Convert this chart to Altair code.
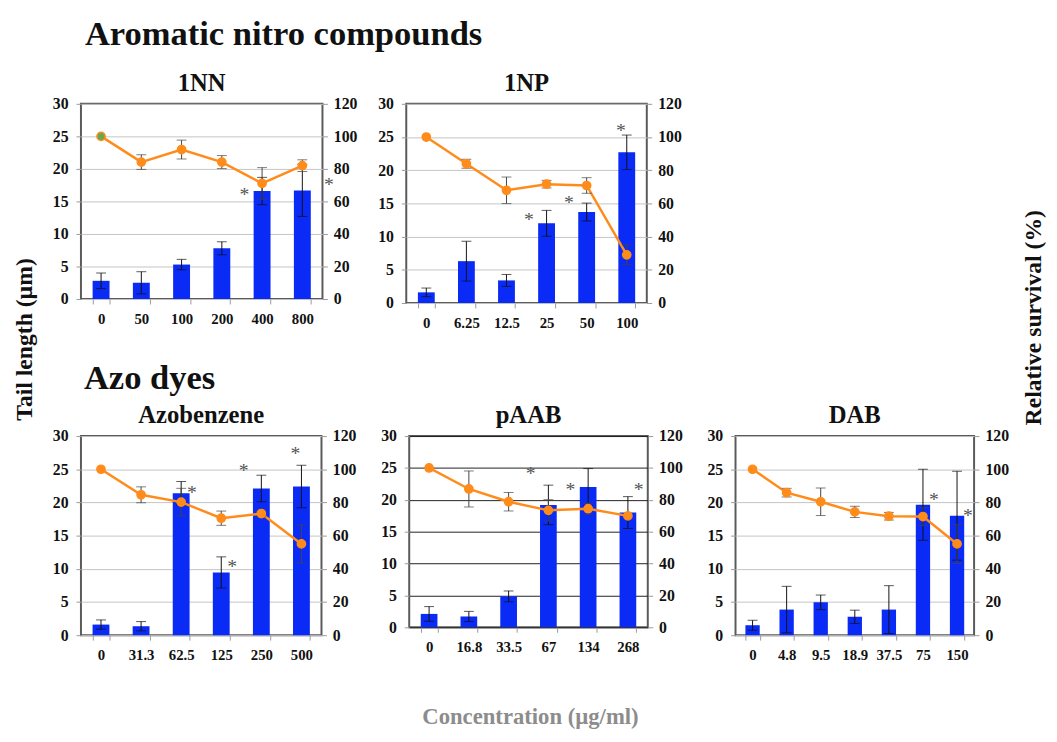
import altair as alt
import pandas as pd

FONT = "Liberation Serif"
BLUE = "#0a2af5"
ORANGE = "#ff8c1a"

# ---------------- data ----------------
cats_1nn = ["0", "50", "100", "200", "400", "800"]
tail_1nn = [2.8, 2.5, 5.3, 7.8, 16.6, 16.7]
tail_err_1nn = [1.2, 1.7, 0.8, 1.0, 2.1, 4.0]
surv_1nn = [100, 84.2, 91.9, 84.2, 71.1, 82.0]
surv_err_1nn = [0, 4.5, 5.8, 4.0, 9.7, 3.6]
star_cat_1nn = ["400", "800"]
star_y_1nn = [16.6, 18.1]
star_side_1nn = ["left", "far"]

cats_1np = ["0", "6.25", "12.5", "25", "50", "100"]
tail_1np = [1.6, 6.3, 3.4, 12.0, 13.7, 22.7]
tail_err_1np = [0.65, 3.0, 0.9, 1.95, 1.35, 2.6]
surv_1np = [100, 83.9, 67.9, 71.6, 70.8, 29.0]
surv_err_1np = [0, 2.7, 8.0, 2.3, 4.7, 6.0]
star_cat_1np = ["25", "50", "100"]
star_y_1np = [13.1, 15.6, 26.5]
star_side_1np = ["left", "left", "top"]

cats_azo = ["0", "31.3", "62.5", "125", "250", "500"]
tail_azo = [1.6, 1.35, 21.4, 9.45, 22.1, 22.4]
tail_err_azo = [0.7, 0.7, 1.75, 2.35, 2.0, 3.2]
surv_azo = [100, 84.6, 80.2, 70.5, 73.3, 55.0]
surv_err_azo = [0, 4.8, 8.3, 4.3, 2.0, 11.5]
star_cat_azo = ["62.5", "125", "250", "500"]
star_y_azo = [22.0, 10.8, 25.3, 27.9]
star_side_azo = ["right", "right", "left", "top"]

cats_paab = ["0", "16.8", "33.5", "67", "134", "268"]
tail_paab = [2.1, 1.7, 4.85, 19.2, 22.0, 18.0]
tail_err_paab = [1.15, 0.8, 0.85, 3.1, 2.9, 2.5]
surv_paab = [100, 86.8, 78.8, 73.4, 74.4, 69.9]
surv_err_paab = [0, 11.3, 5.8, 6.7, 3.5, 0]
star_cat_paab = ["67", "134", "268"]
star_y_paab = [24.7, 22.2, 22.2]
star_side_paab = ["left", "left", "right"]

cats_dab = ["0", "4.8", "9.5", "18.9", "37.5", "75", "150"]
tail_dab = [1.5, 3.86, 4.95, 2.77, 3.86, 19.65, 18.0]
tail_err_dab = [0.75, 3.5, 1.1, 1.0, 3.6, 5.35, 6.7]
surv_dab = [100, 85.9, 80.4, 74.3, 71.7, 71.5, 55.0]
surv_err_dab = [0, 2.6, 8.3, 3.4, 2.3, 5.5, 11.8]
star_cat_dab = ["75", "150"]
star_y_dab = [20.9, 18.6]
star_side_dab = ["right", "right"]

left_label = ["Tail length (µm)"]
right_label = ["Relative survival (%)"]
bottom_label = "Concentration (µg/ml)"

STAR_DX = {"left": -18, "top": -6, "right": 11, "far": 27}


def panel(name, cats, tail, tail_err, surv, surv_err, star_cat, star_y, star_side,
          w, h, grid_color, highlight=()):
    df = pd.DataFrame({
        "idx": list(range(len(cats))),
        "cat": cats,
        "tail": tail,
        "tlo": [t - e for t, e in zip(tail, tail_err)],
        "thi": [t + e for t, e in zip(tail, tail_err)],
        "surv": surv,
        "slo": [s - e for s, e in zip(surv, surv_err)],
        "shi": [s + e for s, e in zip(surv, surv_err)],
        "hl": [c in highlight for c in cats],
    })
    xenc = alt.X("cat:N", sort=cats,
                 scale=alt.Scale(paddingInner=0.58, paddingOuter=0.29),
                 axis=alt.Axis(title=None, labelAngle=0, tickBand="extent", tickSize=5,
                               labelPadding=8, labelFontSize=15))
    lscale = alt.Scale(domain=[0, 30])
    laxis = alt.Axis(title=None, values=list(range(0, 31, 5)), grid=True, gridColor=grid_color,
                     tickSize=5, labelPadding=8, labelFontSize=16, orient="left")
    rscale = alt.Scale(domain=[0, 120])
    raxis = alt.Axis(title=None, values=list(range(0, 121, 20)), grid=False,
                     tickSize=5, labelPadding=6, labelFontSize=16, orient="right")

    def ly(f):
        return alt.Y(f, scale=lscale, axis=laxis)

    def ry(f):
        return alt.Y(f, scale=rscale, axis=raxis)

    base = alt.Chart(df).encode(x=xenc)
    bars = base.mark_bar(color=BLUE).encode(y=ly("tail:Q"))
    berr = base.mark_rule(color="#111", strokeWidth=1).encode(y=ly("tlo:Q"), y2="thi:Q")
    bcap1 = base.mark_tick(color="#111", size=10, thickness=1).encode(y=ly("tlo:Q"))
    bcap2 = base.mark_tick(color="#111", size=10, thickness=1).encode(y=ly("thi:Q"))
    sdf = pd.DataFrame({"cat": star_cat, "y": star_y, "side": star_side})
    stars = []
    for s in sorted(set(star_side)):
        stars.append(
            alt.Chart(sdf).transform_filter(alt.datum.side == s)
            .mark_text(text="*", font=FONT, fontSize=20, color="#555", dx=STAR_DX[s], dy=4)
            .encode(x=xenc, y=ly("y:Q"))
        )
    left = alt.layer(bars, berr, bcap1, bcap2, *stars)

    line = base.mark_line(color=ORANGE, strokeWidth=2.5).encode(y=ry("surv:Q"), order="idx:Q")
    eb = base.transform_filter(alt.datum.shi > alt.datum.slo)
    serr = eb.mark_rule(color="#444", strokeWidth=1).encode(y=ry("slo:Q"), y2="shi:Q")
    scap1 = eb.mark_tick(color="#444", size=10, thickness=1).encode(y=ry("slo:Q"))
    scap2 = eb.mark_tick(color="#444", size=10, thickness=1).encode(y=ry("shi:Q"))
    pts = base.mark_circle(size=70, opacity=1, strokeWidth=1.5).encode(
        y=ry("surv:Q"),
        fill=alt.condition(alt.datum.hl, alt.value("#6aa84f"), alt.value(ORANGE)),
        stroke=alt.value(ORANGE),
    )
    right = alt.layer(line, serr, scap1, scap2, pts)

    return alt.layer(left, right).resolve_scale(y="independent").properties(
        width=w, height=h,
        title=alt.Title(name, fontSize=25, offset=0),
    )


def side_label(texts, w, h, size):
    return alt.Chart(pd.DataFrame({"t": texts})).mark_text(
        angle=270, font=FONT, fontWeight="bold", fontSize=size, color="#111"
    ).encode(text="t:N").properties(
        width=w, height=h, view=alt.ViewBackground(stroke="transparent")
    )


p_1nn = panel("1NN", cats_1nn, tail_1nn, tail_err_1nn, surv_1nn, surv_err_1nn,
              star_cat_1nn, star_y_1nn, star_side_1nn, 245, 198, "#c4c4c4", highlight=("0",))
p_1np = panel("1NP", cats_1np, tail_1np, tail_err_1np, surv_1np, surv_err_1np,
              star_cat_1np, star_y_1np, star_side_1np, 244, 202, "#c4c4c4")
p_azo = panel("Azobenzene", cats_azo, tail_azo, tail_err_azo, surv_azo, surv_err_azo,
              star_cat_azo, star_y_azo, star_side_azo, 244, 202, "#c4c4c4")
p_paab = panel("pAAB", cats_paab, tail_paab, tail_err_paab, surv_paab, surv_err_paab,
               star_cat_paab, star_y_paab, star_side_paab, 242, 194, "#222222")
p_dab = panel("DAB", cats_dab, tail_dab, tail_err_dab, surv_dab, surv_err_dab,
              star_cat_dab, star_y_dab, star_side_dab, 242, 202, "#c4c4c4")

row1 = alt.hconcat(p_1nn, p_1np, spacing=85, bounds="flush",
                   title=alt.Title("Aromatic nitro compounds", anchor="start", frame="group",
                                   fontSize=35, offset=19, dx=4))
row2 = alt.hconcat(p_azo, p_paab, p_dab, spacing=89, bounds="flush",
                   title=alt.Title("Azo dyes", anchor="start", frame="group",
                                   fontSize=35, offset=7, dx=3))

inner = alt.vconcat(row1, row2, spacing=30,
                    title=alt.Title(bottom_label, orient="bottom", anchor="middle", fontSize=23,
                                    color="#8c8c8c", offset=43))

chart = alt.hconcat(
    side_label(left_label, 33, 478, 24),
    inner,
    side_label(right_label, 29, 434, 24),
    spacing=9,
)

chart = chart.properties(
    padding={"left": 0, "top": 4, "right": 0, "bottom": 0},
    background="white",
).configure_view(
    stroke="#5a5a5a", strokeWidth=2
).configure_axis(
    labelFont=FONT, labelFontWeight="bold", labelColor="#111", tickColor="#999", domain=False
).configure_title(
    font=FONT, fontWeight="bold", color="#111"
)

chart.save("out.html", embed_options={"renderer": "svg", "actions": False})
